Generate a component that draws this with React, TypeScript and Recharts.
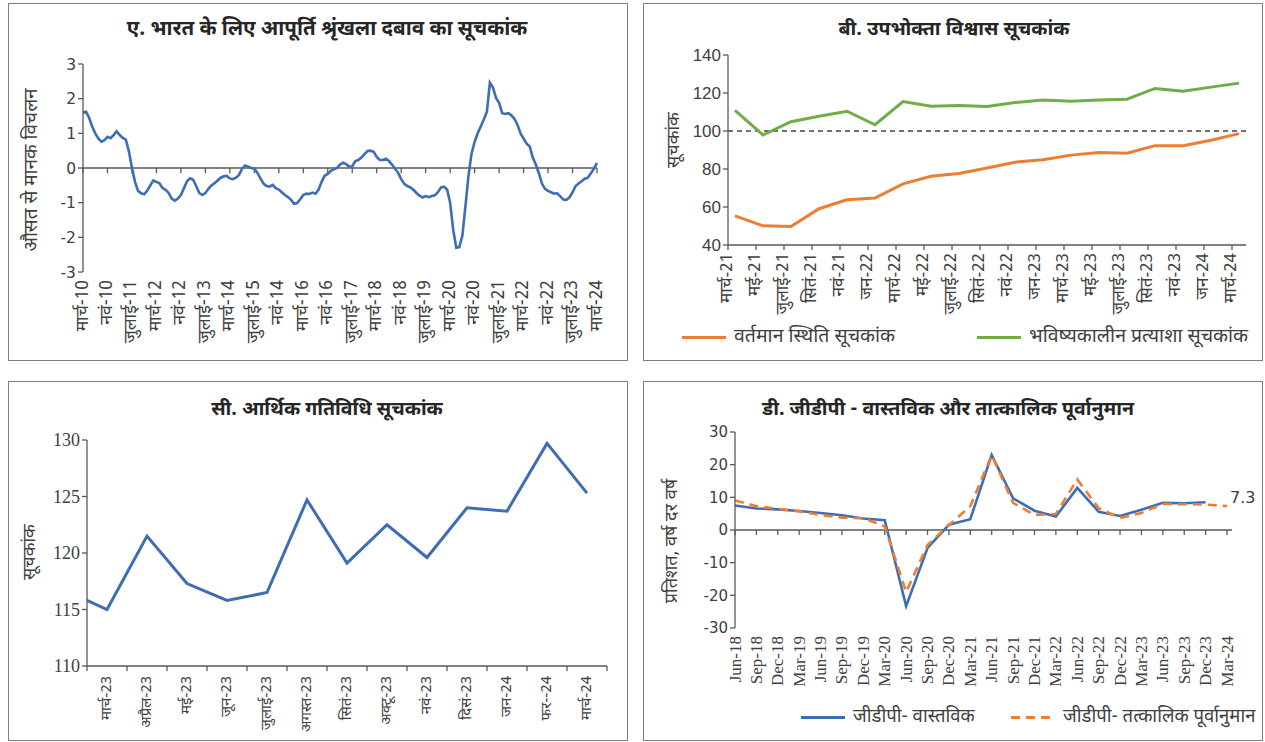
import React from 'react';
import { LineChart, Line, XAxis, YAxis, ReferenceLine, LabelList } from 'recharts';

// ---------- Panel A: supply chain pressure index (monthly, Mar-10 .. Mar-24)
const supplyTickLabels = ['मार्च-10','नवं-10','जुलाई-11','मार्च-12','नवं-12','जुलाई-13','मार्च-14','जुलाई-15','नवं-14','मार्च-16','नवं-16','जुलाई-17','मार्च-18','नवं-18','जुलाई-19','मार्च-20','नवं-20','जुलाई-21','मार्च-22','नवं-22','जुलाई-23','मार्च-24'];
const supplyTickStep = 8; // months between labels
const supplyPressure = [
  1.60, 1.62, 1.45, 1.20, 1.00, 0.85, 0.76, 0.80, 0.90, 0.86, 0.95, 1.06,
  0.95, 0.87, 0.82, 0.48, 0.00, -0.40, -0.66, -0.73, -0.76, -0.65, -0.50, -0.36,
  -0.40, -0.44, -0.58, -0.63, -0.72, -0.88, -0.94, -0.88, -0.78, -0.58, -0.38, -0.30,
  -0.34, -0.52, -0.72, -0.78, -0.72, -0.60, -0.50, -0.44, -0.36, -0.28, -0.24, -0.23,
  -0.30, -0.32, -0.28, -0.20, -0.02, 0.07, 0.04, 0.00, -0.02, -0.14, -0.30, -0.45,
  -0.52, -0.54, -0.49, -0.58, -0.62, -0.70, -0.78, -0.84, -0.92, -1.03, -1.01, -0.90,
  -0.78, -0.74, -0.75, -0.71, -0.74, -0.62, -0.40, -0.22, -0.17, -0.08, -0.04, 0.00,
  0.10, 0.15, 0.11, 0.04, 0.05, 0.20, 0.23, 0.30, 0.40, 0.49, 0.50, 0.47,
  0.32, 0.23, 0.23, 0.27, 0.20, 0.10, -0.02, -0.14, -0.32, -0.46, -0.52, -0.56,
  -0.63, -0.72, -0.80, -0.85, -0.81, -0.84, -0.81, -0.79, -0.70, -0.56, -0.54, -0.62,
  -1.00, -1.78, -2.30, -2.28, -1.95, -1.10, -0.22, 0.42, 0.75, 1.00, 1.20, 1.40,
  1.62, 2.46, 2.32, 2.02, 1.88, 1.58, 1.56, 1.58, 1.52, 1.42, 1.25, 1.00,
  0.85, 0.70, 0.62, 0.30, 0.10, -0.15, -0.45, -0.60, -0.66, -0.70, -0.74, -0.73,
  -0.82, -0.91, -0.92, -0.85, -0.70, -0.52, -0.45, -0.38, -0.31, -0.28, -0.15, -0.02,
  0.15,
];

// ---------- Panel B: consumer confidence (bi-monthly, mid-month survey rounds)
const ccsLabels = ['मार्च-21','मई-21','जुलाई-21','सितं-21','नवं-21','जन-22','मार्च-22','मई-22','जुलाई-22','सितं-22','नवं-22','जन-23','मार्च-23','मई-23','जुलाई-23','सितं-23','नवं-23','जन-24','मार्च-24'];
const currentSituation = [55.3, 50.1, 49.7, 59.1, 63.8, 64.7, 72.2, 76.2, 77.6, 80.5, 83.6, 84.9, 87.3, 88.7, 88.3, 92.3, 92.3, 95.1, 98.6];
const futureExpectations = [110.8, 97.9, 104.9, 107.8, 110.4, 103.3, 115.5, 113.0, 113.4, 112.9, 115.0, 116.3, 115.7, 116.3, 116.7, 122.4, 120.9, 123.1, 125.2];

// ---------- Panel C: economic activity index (monthly; first value is Feb-23)
const eaiLabels = ['फर-23','मार्च-23','अप्रैल-23','मई-23','जून-23','जुलाई-23','अगस्त-23','सितं-23','अक्टू-23','नवं-23','दिसं-23','जन-24','फर--24','मार्च-24'];
const eaiValues = [116.6, 115.0, 121.5, 117.3, 115.8, 116.5, 124.7, 119.1, 122.5, 119.6, 124.0, 123.7, 129.7, 125.3];

// ---------- Panel D: GDP actual vs nowcast (quarterly)
const gdpLabels = ['Jun-18','Sep-18','Dec-18','Mar-19','Jun-19','Sep-19','Dec-19','Mar-20','Jun-20','Sep-20','Dec-20','Mar-21','Jun-21','Sep-21','Dec-21','Mar-22','Jun-22','Sep-22','Dec-22','Mar-23','Jun-23','Sep-23','Dec-23','Mar-24'];
const gdpActual = [7.5, 6.6, 6.3, 5.8, 5.2, 4.5, 3.5, 3.0, -23.3, -5.5, 1.6, 3.3, 23.0, 9.7, 5.9, 4.1, 12.9, 5.6, 4.3, 6.2, 8.3, 8.2, 8.5, null];
const gdpNowcast = [9.0, 7.3, 6.5, 5.7, 4.6, 3.8, 3.6, 1.1, -19.0, -4.6, 1.5, 7.3, 22.9, 8.3, 4.6, 4.9, 15.5, 6.7, 3.7, 5.2, 8.0, 7.9, 7.8, 7.3];

// ---------- data tables
const supplyData = supplyPressure.map((v, i) => ({ m: i, v }));
const supplyTicks = supplyTickLabels.map((_, i) => i * supplyTickStep);
const ccsData = ccsLabels.map((_, i) => ({ t: i * 2 + 0.5, cur: currentSituation[i], fut: futureExpectations[i] }));
const ccsTicks = ccsLabels.map((_, i) => i * 2);
const eaiData = eaiValues.map((v, i) => ({ m: i - 1, v }));
const eaiTicks: number[] = [];
for (let i = 0; i < eaiLabels.length - 1; i++) { eaiTicks.push(i - 0.5); eaiTicks.push(i); }
eaiTicks.push(eaiLabels.length - 1.5);
const gdpData = gdpLabels.map((q, i) => ({ q: i, actual: gdpActual[i], nowcast: gdpNowcast[i] }));
const gdpTicks = gdpLabels.map((_, i) => i);

const HI = "'Noto Sans Devanagari', 'Lohit Devanagari', 'Noto Sans', sans-serif";
const SANS = "'DejaVu Sans', sans-serif";
const SERIF = "'Liberation Serif', serif";
const AXIS = '#595959';
const TXT = '#404040';
const BLUE = '#3D6DB5';
const ORANGE = '#ED7D31';
const GREEN = '#70AD47';

const VLabel = (props: any) => {
  const { x, y, text, fontSize, fontFamily } = props;
  return (
    <text x={x} y={y} transform={`rotate(-90 ${x} ${y})`} textAnchor="end" dominantBaseline="central"
      fontSize={fontSize} fontFamily={fontFamily} fill={TXT}>{text}</text>
  );
};

const Panel = ({ left, top, width, height, children }: any) => (
  <div style={{ position: 'absolute', left, top, width, height }}>
    <div style={{ position: 'absolute', left: 0, top: 0, width, height, boxSizing: 'border-box', border: '1px solid #7f7f7f' }} />
    {children}
  </div>
);

const Title = ({ cx, cy, text, size = 19.5 }: any) => (
  <div style={{ position: 'absolute', left: cx, top: cy, transform: 'translate(-50%,-50%)', whiteSpace: 'nowrap',
    fontFamily: HI, fontWeight: 700, fontSize: size, color: '#262626' }}>{text}</div>
);

const VTitle = ({ cx, cy, text, size = 18 }: any) => (
  <div style={{ position: 'absolute', left: cx, top: cy, transform: 'translate(-50%,-50%) rotate(-90deg)', whiteSpace: 'nowrap',
    fontFamily: HI, fontSize: size, color: TXT }}>{text}</div>
);

const LegendItem = ({ x, y, color, dash, text, lineW = 44, size = 19.5 }: any) => (
  <div style={{ position: 'absolute', left: x, top: y, transform: 'translateY(-50%)', display: 'flex', alignItems: 'center', whiteSpace: 'nowrap' }}>
    <svg width={lineW} height={6} style={{ marginRight: 8 }}>
      <line x1={0} y1={3} x2={lineW} y2={3} stroke={color} strokeWidth={3} strokeDasharray={dash} />
    </svg>
    <span style={{ fontFamily: HI, fontSize: size, color: TXT }}>{text}</span>
  </div>
);

export default function App() {
  return (
    <div style={{ position: 'absolute', left: 0, top: 0, width: 1265, height: 742, background: '#fff', overflow: 'hidden' }}>
      {/* Panel A */}
      <Panel left={8} top={3} width={620} height={358}>
        <Title cx={319} cy={27} size={20.5} text="ए. भारत के लिए आपूर्ति श्रृंखला दबाव का सूचकांक" />
        <VTitle cx={24} cy={167} size={19} text="औसत से मानक विचलन" />
        <div style={{ position: 'absolute', left: 0, top: 0 }}>
          <LineChart width={620} height={358} data={supplyData} margin={{ top: 61, right: 31, left: 30, bottom: 9 }}>
            <XAxis dataKey="m" type="number" domain={[0, 168]} ticks={supplyTicks} interval={0} height={80}
              axisLine={false} tickLine={false} tickSize={0} tickMargin={8}
              tick={(p: any) => <VLabel x={p.x} y={p.y} text={supplyTickLabels[p.payload.value / supplyTickStep]} fontSize={17.5} fontFamily={HI} />} />
            <YAxis type="number" domain={[-3, 3]} ticks={[-3, -2, -1, 0, 1, 2, 3]} width={45}
              axisLine={{ stroke: AXIS, strokeWidth: 1.3 }} tickLine={{ stroke: AXIS, strokeWidth: 1.3 }} tickSize={5}
              tick={{ fill: TXT, fontSize: 15.5, fontFamily: SANS }} />
            <ReferenceLine y={0} stroke={AXIS} strokeWidth={1.5} />
            {supplyTicks.map((t) => (
              <ReferenceLine key={t} segment={[{ x: t, y: 0 }, { x: t, y: -0.15 }]} stroke={AXIS} strokeWidth={1.3} />
            ))}
            <Line dataKey="v" stroke={BLUE} strokeWidth={2.6} dot={false} isAnimationActive={false} />
          </LineChart>
        </div>
      </Panel>

      {/* Panel B */}
      <Panel left={643} top={3} width={620} height={358}>
        <Title cx={311} cy={27} text="बी. उपभोक्ता विश्वास सूचकांक" />
        <VTitle cx={31} cy={137} text="सूचकांक" />
        <div style={{ position: 'absolute', left: 0, top: 0 }}>
          <LineChart width={620} height={358} data={ccsData} margin={{ top: 52, right: 17, left: 45, bottom: 46 }}>
            <XAxis dataKey="t" type="number" domain={[0, 37]} ticks={ccsTicks} interval={0} height={70}
              axisLine={{ stroke: AXIS, strokeWidth: 1.3 }} tickLine={{ stroke: AXIS, strokeWidth: 1.3 }} tickSize={5} tickMargin={3}
              tick={(p: any) => <VLabel x={p.x} y={p.y} text={ccsLabels[p.payload.value / 2]} fontSize={17} fontFamily={HI} />} />
            <YAxis type="number" domain={[40, 140]} ticks={[40, 60, 80, 100, 120, 140]} width={40}
              axisLine={{ stroke: AXIS, strokeWidth: 1.3 }} tickLine={{ stroke: AXIS, strokeWidth: 1.3 }} tickSize={5}
              tick={{ fill: TXT, fontSize: 17, fontFamily: "'Liberation Sans', sans-serif" }} />
            <ReferenceLine y={100} stroke="#404040" strokeWidth={1.3} strokeDasharray="5 4" />
            <Line dataKey="cur" stroke={ORANGE} strokeWidth={3} dot={false} isAnimationActive={false} />
            <Line dataKey="fut" stroke={GREEN} strokeWidth={3} dot={false} isAnimationActive={false} />
          </LineChart>
        </div>
        <LegendItem x={39} y={334} color={ORANGE} text="वर्तमान स्थिति सूचकांक" />
        <LegendItem x={334} y={334} color={GREEN} text="भविष्यकालीन प्रत्याशा सूचकांक" />
      </Panel>

      {/* Panel C */}
      <Panel left={8} top={381} width={620} height={360}>
        <Title cx={319} cy={29} text="सी. आर्थिक गतिविधि सूचकांक" />
        <VTitle cx={22} cy={171} text="सूचकांक" />
        <div style={{ position: 'absolute', left: 0, top: 0 }}>
          <LineChart width={620} height={360} data={eaiData} margin={{ top: 59, right: 21, left: 34, bottom: 5 }}>
            <XAxis dataKey="m" type="number" domain={[-0.5, eaiLabels.length - 1.5]} allowDataOverflow ticks={eaiTicks} interval={0} height={70}
              axisLine={{ stroke: AXIS, strokeWidth: 1.3 }} tickLine={false} tickSize={0} tickMargin={0}
              tick={(p: any) => {
                const v = p.payload.value;
                if (Number.isInteger(v)) {
                  return <VLabel x={p.x} y={p.y + 10} text={eaiLabels[v + 1]} fontSize={15} fontFamily={HI} />;
                }
                return <line x1={p.x} y1={p.y} x2={p.x} y2={p.y + 5} stroke={AXIS} strokeWidth={1.3} />;
              }} />
            <YAxis type="number" domain={[110, 130]} ticks={[110, 115, 120, 125, 130]} width={45}
              axisLine={{ stroke: AXIS, strokeWidth: 1.3 }} tickLine={{ stroke: AXIS, strokeWidth: 1.3 }} tickSize={5}
              tick={{ fill: TXT, fontSize: 18, fontFamily: SERIF }} />
            <Line dataKey="v" stroke={BLUE} strokeWidth={3} dot={false} isAnimationActive={false} />
          </LineChart>
        </div>
      </Panel>

      {/* Panel D */}
      <Panel left={643} top={381} width={620} height={360}>
        <Title cx={305} cy={29} text="डी. जीडीपी - वास्तविक और तात्कालिक पूर्वानुमान" />
        <VTitle cx={29} cy={160} text="प्रतिशत, वर्ष दर वर्ष" />
        <div style={{ position: 'absolute', left: 0, top: 0 }}>
          <LineChart width={620} height={360} data={gdpData} margin={{ top: 51, right: 31, left: 47, bottom: 43 }}>
            <XAxis dataKey="q" type="number" domain={[0, gdpLabels.length - 1]} padding={{ right: 5 }} ticks={gdpTicks} interval={0} height={70}
              axisLine={false} tickLine={false} tickSize={0} tickMargin={8}
              tick={(p: any) => <VLabel x={p.x} y={p.y} text={gdpLabels[p.payload.value]} fontSize={17} fontFamily={SERIF} />} />
            <YAxis type="number" domain={[-30, 30]} ticks={[-30, -20, -10, 0, 10, 20, 30]} width={45}
              axisLine={{ stroke: AXIS, strokeWidth: 1.3 }} tickLine={{ stroke: AXIS, strokeWidth: 1.3 }} tickSize={5}
              tick={{ fill: TXT, fontSize: 15, fontFamily: SANS }} />
            <ReferenceLine y={0} stroke={AXIS} strokeWidth={1.5} />
            {gdpTicks.map((t) => (
              <ReferenceLine key={t} segment={[{ x: t, y: 0 }, { x: t, y: -1.5 }]} stroke={AXIS} strokeWidth={1.3} />
            ))}
            <Line dataKey="actual" stroke={BLUE} strokeWidth={2.6} dot={false} isAnimationActive={false} connectNulls={false} />
            <Line dataKey="nowcast" stroke={ORANGE} strokeWidth={2.6} strokeDasharray="9 6" dot={false} isAnimationActive={false}>
              <LabelList dataKey="nowcast" content={(p: any) => p.index === gdpNowcast.length - 1 ? (
                <text x={p.x + 3} y={p.y - 9} fontSize={16} fontFamily={SANS} fill={TXT} dominantBaseline="central">{p.value}</text>
              ) : null} />
            </Line>
          </LineChart>
        </div>
        <LegendItem x={158} y={336} size={18.5} color={BLUE} text="जीडीपी- वास्तविक" />
        <LegendItem x={368} y={336} size={18.5} color={ORANGE} dash="9 6" text="जीडीपी- तत्कालिक पूर्वानुमान" />
      </Panel>
    </div>
  );
}
